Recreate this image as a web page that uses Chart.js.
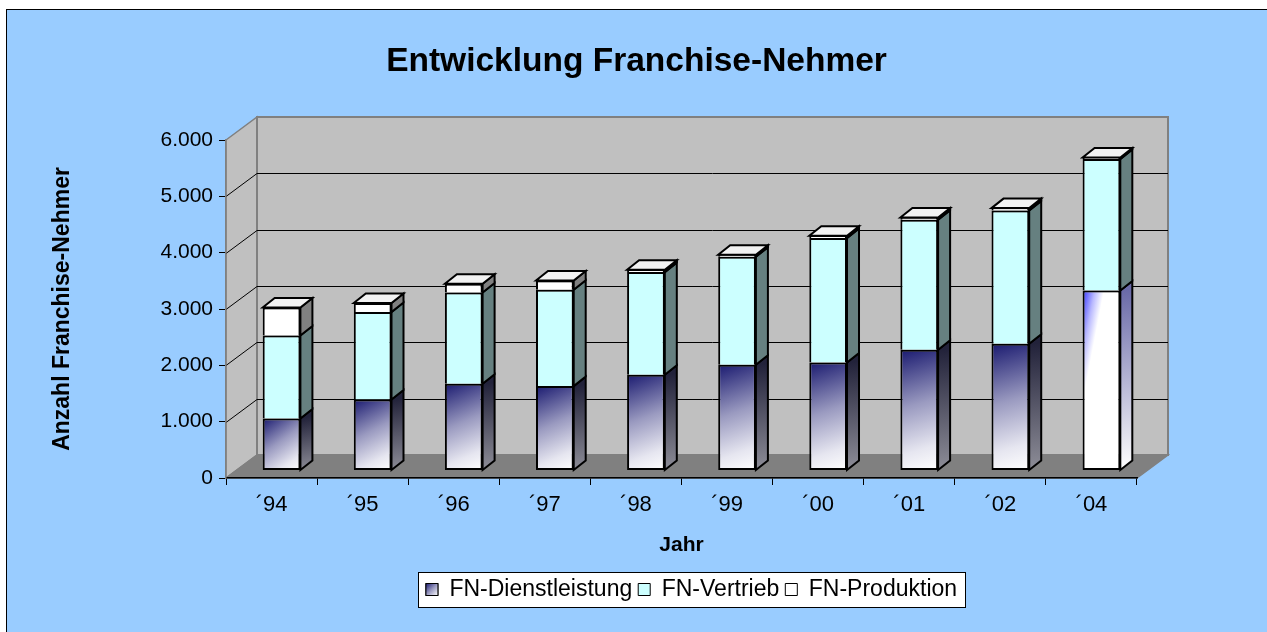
<!DOCTYPE html>
<html lang="de">
<head>
<meta charset="utf-8">
<title>Entwicklung Franchise-Nehmer</title>
<script src="https://cdn.jsdelivr.net/npm/chart.js@4.4.1/dist/chart.umd.min.js"></script>
<style>
    html, body { margin: 0; padding: 0; background: #fff; }
    canvas { display: block; }
</style>
</head>
<body>
<canvas id="grafico" width="1267" height="632"></canvas>
<script>
// --- Daten ---
const jahre = ['´94', '´95', '´96', '´97', '´98', '´99', '´00', '´01', '´02', '´04'];
const dienstleistung = [923, 1260, 1539, 1498, 1699, 1877, 1917, 2143, 2249, 3195];
const vertrieb = [1474, 1552, 1621, 1710, 1823, 1917, 2209, 2308, 2367, 2333];
const produktion = [497, 160, 154, 165, 41, 35, 41, 40, 42, 29];
const yTicks = [0, 1000, 2000, 3000, 4000, 5000, 6000];

const FONT = 'Arial, "Liberation Sans", sans-serif';
const BAR_ANTEIL = 0.414;

// 3D-Versatz (Pixel)
const WAND = { x: 31, y: -23 };      // Tiefe des ganzen Plotkastens
const VERSATZ = { x: 10, y: -7.5 };  // Lage der Säulen-Vorderseiten
const TIEFE = { x: 12, y: -9.5 };    // Tiefe einer Säule

Chart.defaults.font.family = FONT;
Chart.defaults.color = '#000';

function tausender(v) {
    return String(v).replace(/\B(?=(\d{3})+(?!\d))/g, '.');
}

// Verlauf für die Dienstleistungs-Säulen (dunkelblau oben links -> weiß unten rechts)
function dienstFill(c) {
    if (c.dataIndex === undefined) return '#8080b0';
    const chart = c.chart;
    const xs = chart.scales.x, ys = chart.scales.y;
    if (!xs || !ys) return '#8080b0';
    const half = xs.width / jahre.length * BAR_ANTEIL / 2;
    const cx = xs.getPixelForValue(c.dataIndex);
    const top = ys.getPixelForValue(dienstleistung[c.dataIndex]);
    const bottom = ys.getPixelForValue(0);
    if (![half, cx, top, bottom].every(Number.isFinite)) return '#8080b0';

    if (jahre[c.dataIndex] === '´04') {
        const g = chart.ctx.createLinearGradient(cx - half, top, cx - half + 26, top + 5);
        g.addColorStop(0, '#3434ff');
        g.addColorStop(0.45, '#b8b8ff');
        g.addColorStop(0.8, '#ffffff');
        g.addColorStop(1, '#ffffff');
        return g;
    }
    const g = chart.ctx.createLinearGradient(cx - half, top, cx + half, bottom);
    g.addColorStop(0, '#1a1a70');
    g.addColorStop(0.45, '#9a9ac0');
    g.addColorStop(0.8, '#e6e6f0');
    g.addColorStop(1, '#ffffff');
    return g;
}

function seitenFarbe(ctx, di, i, r, top, base) {
    if (di === 0) {
        const g = ctx.createLinearGradient(r, top, r + TIEFE.x, base);
        if (jahre[i] === '´04') {
            g.addColorStop(0, '#6a6aa8');
            g.addColorStop(1, '#ffffff');
        } else {
            g.addColorStop(0, '#22223a');
            g.addColorStop(1, '#8e8e98');
        }
        return g;
    }
    return di === 1 ? '#668080' : '#808080';
}

function flaeche(ctx, pts, fill, stroke, lw) {
    ctx.beginPath();
    ctx.moveTo(pts[0][0], pts[0][1]);
    for (let k = 1; k < pts.length; k++) ctx.lineTo(pts[k][0], pts[k][1]);
    ctx.closePath();
    ctx.fillStyle = fill;
    ctx.fill();
    ctx.strokeStyle = stroke;
    ctx.lineWidth = lw;
    ctx.stroke();
}

// --- Plugin: Hintergrund, 3D-Wände, Legendenrahmen, Säulenseiten ---
const excel3d = {
    id: 'excel3d',
    afterLayout(chart) {
        // Legende über der Plotmitte zentrieren
        const lg = chart.legend;
        const a = chart.chartArea;
        const dx = (a.left + a.right) / 2 + VERSATZ.x - (lg.left + lg.right) / 2;
        lg.left += dx;
        lg.right += dx;
    },
    beforeDraw(chart) {
        const { ctx, chartArea: a, width, height } = chart;
        const ys = chart.scales.y;
        ctx.save();
        ctx.fillStyle = '#ffffff';
        ctx.fillRect(0, 0, width, height);
        ctx.fillStyle = '#99ccff';
        ctx.fillRect(6, 9, width, height);
        ctx.strokeStyle = '#000';
        ctx.lineWidth = 1;
        ctx.strokeRect(6.5, 9.5, width, height);

        const y0 = ys.getPixelForValue(ys.min);
        const y1 = ys.getPixelForValue(ys.max);
        const L = a.left, R = a.right;
        // linke Wand
        flaeche(ctx, [[L, y1], [L + WAND.x, y1 + WAND.y], [L + WAND.x, y0 + WAND.y], [L, y0]], '#c0c0c0', '#808080', 1.5);
        // Rückwand
        flaeche(ctx, [[L + WAND.x, y1 + WAND.y], [R + WAND.x, y1 + WAND.y], [R + WAND.x, y0 + WAND.y], [L + WAND.x, y0 + WAND.y]], '#c0c0c0', '#808080', 2);
        // Boden
        flaeche(ctx, [[L, y0], [L + WAND.x, y0 + WAND.y], [R + WAND.x, y0 + WAND.y], [R, y0]], '#808080', '#808080', 1.5);

        // Gitternetzlinien an Wand und Seitenwand
        ctx.strokeStyle = '#000';
        ctx.lineWidth = 1;
        ys.ticks.forEach(t => {
            if (t.value <= ys.min || t.value >= ys.max) return;
            const y = Math.round(ys.getPixelForValue(t.value)) + 0.5;
            ctx.beginPath();
            ctx.moveTo(L, y);
            ctx.lineTo(L + WAND.x, y + WAND.y);
            ctx.lineTo(R + WAND.x, y + WAND.y);
            ctx.stroke();
        });

        // Rahmen der Legende
        const lg = chart.legend;
        const hb = lg.legendHitBoxes;
        if (hb && hb.length) {
            const last = hb[hb.length - 1];
            const x1 = Math.round(hb[0].left - 8) + 0.5;
            const x2 = Math.round(last.left + last.width + 8) + 0.5;
            const t = Math.round(hb[0].top - 6) + 0.5;
            const h = hb[0].height + 12;
            ctx.fillStyle = '#ffffff';
            ctx.fillRect(x1, t, x2 - x1, h);
            ctx.strokeStyle = '#000';
            ctx.lineWidth = 1;
            ctx.strokeRect(x1, t, x2 - x1, h);
        }
        ctx.restore();
    },
    beforeDatasetsDraw(chart) {
        chart.ctx.save();
        chart.ctx.translate(VERSATZ.x, VERSATZ.y);
    },
    afterDatasetsDraw(chart) {
        const ctx = chart.ctx;
        const n = chart.data.datasets.length;
        chart.data.datasets.forEach((ds, di) => {
            const meta = chart.getDatasetMeta(di);
            meta.data.forEach((bar, i) => {
                const { x, y, base, width } = bar.getProps(['x', 'y', 'base', 'width'], true);
                const l = x - width / 2, r = x + width / 2;
                flaeche(ctx, [[r, y], [r + TIEFE.x, y + TIEFE.y], [r + TIEFE.x, base + TIEFE.y], [r, base]],
                    seitenFarbe(ctx, di, i, r, y, base), '#000', 2);
                if (di === n - 1) {
                    flaeche(ctx, [[l, y], [l + TIEFE.x, y + TIEFE.y], [r + TIEFE.x, y + TIEFE.y], [r, y]], '#f2f2f2', '#000', 2);
                }
            });
        });
        ctx.restore();
    },
    afterDraw(chart) {
        // Farbverlauf im Legendensymbol der Dienstleistung
        const hb = chart.legend.legendHitBoxes;
        if (!hb || !hb.length) return;
        const ctx = chart.ctx;
        const bx = hb[0].left, by = hb[0].top + 5.5;
        const g = ctx.createLinearGradient(bx, by, bx + 12, by + 12);
        g.addColorStop(0, '#1a1a70');
        g.addColorStop(0.5, '#9a9ac0');
        g.addColorStop(1, '#ffffff');
        ctx.save();
        ctx.fillStyle = g;
        ctx.fillRect(bx, by, 12, 12);
        ctx.strokeStyle = '#000';
        ctx.lineWidth = 1;
        ctx.strokeRect(bx, by, 12, 12);
        ctx.restore();
    }
};

const legendFarben = ['#8080b0', '#ccffff', '#ffffff'];

new Chart(document.getElementById('grafico').getContext('2d'), {
    type: 'bar',
    data: {
        labels: jahre,
        datasets: [
            {
                label: 'FN-Dienstleistung',
                data: dienstleistung,
                backgroundColor: dienstFill,
                borderColor: '#000',
                borderWidth: 2,
                borderSkipped: false,
                xAxisID: 'x', yAxisID: 'y'
            },
            {
                label: 'FN-Vertrieb',
                data: vertrieb,
                backgroundColor: '#ccffff',
                borderColor: '#000',
                borderWidth: 2,
                xAxisID: 'x', yAxisID: 'y'
            },
            {
                label: 'FN-Produktion',
                data: produktion,
                backgroundColor: '#ffffff',
                borderColor: '#000',
                borderWidth: 2,
                xAxisID: 'x', yAxisID: 'y'
            }
        ]
    },
    options: {
        responsive: false,
        animation: false,
        devicePixelRatio: 1,
        events: [],
        categoryPercentage: 1,
        barPercentage: BAR_ANTEIL,
        layout: { padding: { left: 6, right: 0, top: 0, bottom: 21 } },
        plugins: {
            title: {
                display: true,
                text: 'Entwicklung Franchise-Nehmer',
                font: { size: 33.5, weight: 'bold' },
                color: '#000',
                padding: { top: 42, bottom: 57.8 }
            },
            legend: {
                position: 'bottom',
                labels: {
                    font: { size: 23 },
                    color: '#000',
                    boxWidth: 12,
                    boxHeight: 12,
                    padding: 6,
                    generateLabels: chart => chart.data.datasets.map((ds, i) => ({
                        text: ds.label,
                        fillStyle: legendFarben[i],
                        strokeStyle: '#000',
                        lineWidth: 1,
                        hidden: false,
                        datasetIndex: i
                    }))
                }
            },
            tooltip: { enabled: false }
        },
        scales: {
            x: {
                stacked: true,
                grid: { offset: true, drawOnChartArea: false, tickLength: 7, color: '#000' },
                border: { display: true, color: '#000', width: 1.5 },
                ticks: { font: { size: 22 }, color: '#000', padding: 7, maxRotation: 0, minRotation: 0 },
                title: {
                    display: true,
                    text: 'Jahr',
                    font: { size: 21, weight: 'bold' },
                    color: '#000',
                    padding: { top: 0, bottom: 14.4 }
                },
                afterFit: s => { s.height = 94; }
            },
            y: {
                stacked: true,
                position: 'left',
                min: 0,
                max: 6000,
                afterBuildTicks: s => { s.ticks = yTicks.map(v => ({ value: v })); },
                grid: { drawOnChartArea: false, tickLength: 7, color: '#000' },
                border: { display: true, color: '#808080', width: 1.5 },
                ticks: { font: { size: 21 }, color: '#000', padding: 6, callback: v => tausender(v) },
                title: {
                    display: true,
                    text: 'Anzahl Franchise-Nehmer',
                    font: { size: 23, weight: 'bold' },
                    color: '#000',
                    padding: { top: 43, bottom: 0 }
                },
                afterFit: s => { s.width = 220; }
            },
            rechts: {
                type: 'linear',
                position: 'right',
                display: true,
                ticks: { display: false },
                grid: { display: false },
                border: { display: false },
                afterFit: s => { s.width = 130; }
            }
        }
    },
    plugins: [excel3d]
});
</script>
</body>
</html>
